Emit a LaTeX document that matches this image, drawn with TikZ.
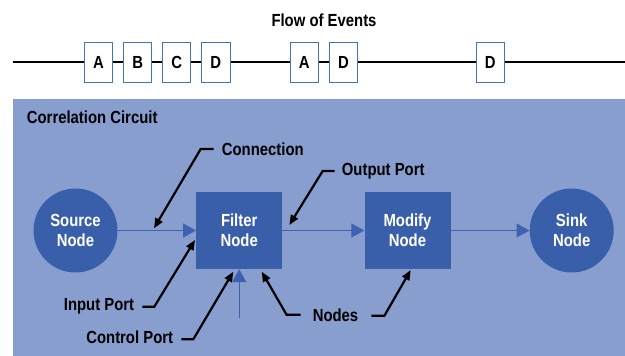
\documentclass[tikz,border=0pt]{standalone}
\usepackage{fontspec}
\setmainfont{Liberation Sans}[FakeStretch=0.85]
\usetikzlibrary{arrows.meta}
\definecolor{panelblue}{RGB}{135,158,207}
\definecolor{nodeblue}{RGB}{57,94,170}
\definecolor{linkblue}{RGB}{62,98,176}
\definecolor{boxedge}{RGB}{68,114,196}
\tikzset{
  lbl/.style={font=\fontsize{17.5}{20}\bfseries\selectfont, inner sep=0pt},
  evbox/.style={draw=boxedge, line width=1pt, fill=white, minimum width=28.5pt, minimum height=40pt, inner sep=0pt, font=\fontsize{17.5}{20}\bfseries\selectfont},
  blocknode/.style={fill=nodeblue, minimum width=86pt, minimum height=77pt, inner sep=0pt, text=white, align=center, font=\fontsize{17.5}{20}\bfseries\selectfont},
  roundnode/.style={circle, fill=nodeblue, minimum size=84pt, inner sep=0pt, text=white, align=center, font=\fontsize{17.5}{20}\bfseries\selectfont},
  link/.style={draw=linkblue, line width=1.3pt, -{Triangle[length=13pt,width=14pt]}},
  leader/.style={draw=black, line width=2.2pt, -{Triangle[length=10pt,width=8pt]}},
}
\begin{document}
\begin{tikzpicture}[x=1pt, y=-1pt]
\useasboundingbox (0,0) rectangle (625,356);

% event stream
\node[lbl] (title) at (324,20) {Flow of Events};
\coordinate (tstart) at (12.7,62.3);
\coordinate (tend) at (625,62.3);
\draw[line width=2pt] (tstart) -- (tend);
\node[evbox] (e1) at (98.5,62.3) {A};
\node[evbox] (e2) at (137.7,62.3) {B};
\node[evbox] (e3) at (176.7,62.3) {C};
\node[evbox] (e4) at (215.8,62.3) {D};
\node[evbox] (e5) at (304.3,62.3) {A};
\node[evbox] (e6) at (343.5,62.3) {D};
\node[evbox] (e7) at (490.3,62.3) {D};

% circuit panel
\fill[panelblue] (13.3,99) rectangle (625,356);
\node[lbl, anchor=west] (ptitle) at (26.7,117) {Correlation Circuit};

\node[roundnode] (src) at (75.5,230.5) {Source\\Node};
\node[blocknode] (filt) at (239.2,230.5) {Filter\\Node};
\node[blocknode] (mod) at (407.5,230.5) {Modify\\Node};
\node[roundnode] (sink) at (571.7,230.5) {Sink\\Node};

\draw[link] (src) -- (filt);
\draw[link] (filt) -- (mod);
\draw[link] (mod) -- (sink);
\coordinate (ctl) at (239.2,318);
\draw[link] (ctl) -- (filt.south);

% callouts
\node[lbl, anchor=west] (lconn) at (221.7,149) {Connection};
\node[lbl, anchor=west] (lout) at (341.7,171) {Output Port};
\node[lbl, anchor=east] (lin) at (134.3,306.7) {Input Port};
\node[lbl, anchor=east] (lctl) at (173.3,337.3) {Control Port};
\node[lbl] (lnodes) at (335.5,315.7) {Nodes};

\coordinate (tconn) at (154,228.3);
\coordinate (tout) at (289.3,225);
\coordinate (tin) at (195,240);
\coordinate (tctl) at (233.3,271.7);
\coordinate (tnf) at (261.7,271.7);
\coordinate (tnm) at (410.7,270);

\draw[leader] ([xshift=-8pt]lconn.west) -- ++(-13,0) -- (tconn);
\draw[leader] ([xshift=-7pt]lout.west) -- ++(-12,0) -- (tout);
\draw[leader] ([xshift=8pt]lin.east) -- ++(12,0) -- (tin);
\draw[leader] ([xshift=8pt,yshift=-2pt]lctl.east) -- ++(12,0) -- (tctl);
\draw[leader] ([xshift=13pt]lnodes.east) -- ++(13,0) -- (tnm);
\draw[leader] ([xshift=-12pt,yshift=1pt]lnodes.west) -- ++(-14,0) -- (tnf);
\end{tikzpicture}
\end{document}
